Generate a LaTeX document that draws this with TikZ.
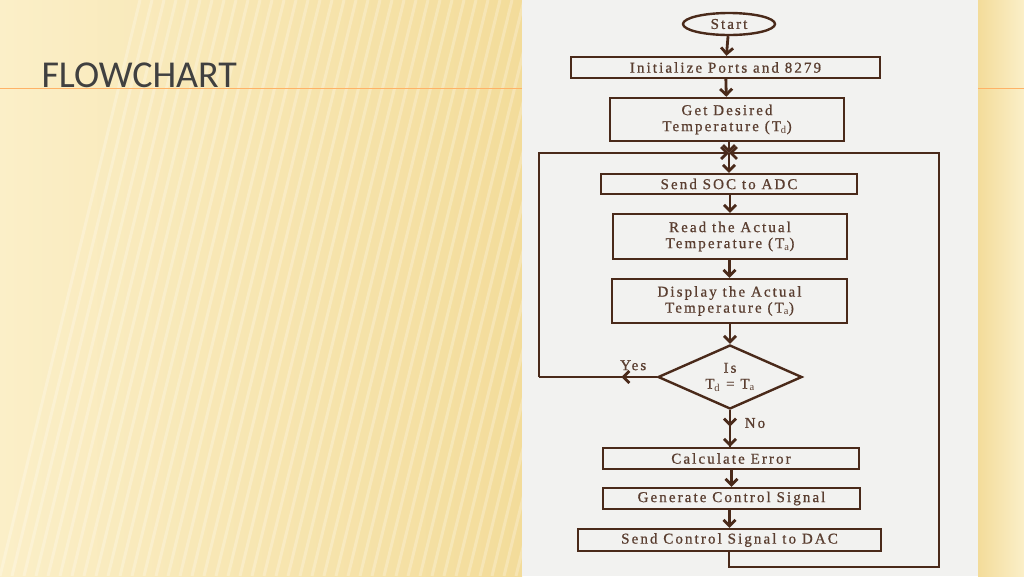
\documentclass[tikz,border=0pt]{standalone}
\usepackage{fontspec}
\setmainfont{Liberation Serif}
\newfontfamily\boxfont[LetterSpace=14,FakeBold=0.8]{Liberation Serif}
\newfontfamily\titlefont{Carlito}
\usetikzlibrary{shapes.geometric,arrows.meta,decorations.markings}
\definecolor{ink}{HTML}{4A2A1A}
\definecolor{txt}{HTML}{5A3E30}
\definecolor{panel}{HTML}{F2F2F0}
\definecolor{bgA}{HTML}{FBEFC8}
\definecolor{bgB}{HTML}{F3DC9A}
\tikzset{
  lbl/.style={text=txt,font=\boxfont\fontsize{15}{16}\selectfont},
  box/.style={draw=ink,line width=2.4pt,fill=panel,lbl,align=center,inner sep=0pt},
  flow/.style={draw=ink,line width=2.8pt,-{Straight Barb[length=6pt,width=12pt]}},
  line/.style={draw=ink,line width=2.8pt},
  midarrow/.style={postaction={decorate},decoration={markings,mark=at position #1 with {\arrow{Straight Barb[length=6pt,width=12pt]}}}},
}
\begin{document}
\begin{tikzpicture}[x=1pt,y=-1pt]
\useasboundingbox (0,0) rectangle (1024,576);
\shade[left color=bgA,right color=bgB] (0,0) rectangle (522,576);
\shade[left color=bgB,right color=bgA] (978,0) rectangle (1024,576);
\foreach \i in {0,12,...,560}{\draw[white,opacity=0.25,line width=3pt] (\i,576) -- (\i+140,0);}
\draw[orange!60,line width=0.6pt] (0,88) -- (1024,88);
\fill[panel] (522,0) rectangle (978,576);
\node[anchor=west,text=black!75,font=\titlefont\fontsize{38}{40}\selectfont] (title) at (38,75) {FLOWCHART};
\node[box,ellipse,minimum width=92pt,minimum height=22pt] (start) at (729,24) {Start};
\node[box,minimum width=309pt,minimum height=21pt] (init) at (725.5,67.5) {Initialize Ports and 8279};
\node[box,minimum width=234pt,minimum height=43pt] (get) at (727,119.5) {Get Desired\\Temperature (T$_{\mathrm d}$)};
\coordinate (j) at (729,153);
\node[box,minimum width=256pt,minimum height=20pt] (soc) at (729,184) {Send SOC to ADC};
\node[box,minimum width=234pt,minimum height=45pt] (read) at (730,236.5) {Read the Actual\\Temperature (T$_{\mathrm a}$)};
\node[box,minimum width=235pt,minimum height=44pt] (disp) at (729.5,301) {Display the Actual\\Temperature (T$_{\mathrm a}$)};
\node[box,diamond,aspect=2.25,minimum width=144pt,minimum height=64pt] (dec) at (730,377) {Is\\T$_{\mathrm d}$ = T$_{\mathrm a}$};
\node[box,minimum width=256pt,minimum height=21pt] (calc) at (731,458.5) {Calculate Error};
\node[box,minimum width=257pt,minimum height=21pt] (gen) at (731.5,498.5) {Generate Control Signal};
\node[box,minimum width=303pt,minimum height=22pt] (dac) at (729.5,540) {Send Control Signal to DAC};
\coordinate (yl) at (539,377);
\coordinate (yt) at (539,153);
\coordinate (rb) at (939,567);
\coordinate (rt) at (939,153);
\coordinate (db) at (729,567);
\draw[flow] (start) -- (init);
\draw[flow] (init) -- (get);
\draw[flow] (get.south -| j) -- (j);
\draw[flow] (j) -- (soc);
\draw[flow] (soc.south -| read.north) -- (read);
\draw[flow] (read.south -| disp.north) -- (disp);
\draw[flow] (disp.south -| dec.north) -- (dec);
\draw[line,midarrow=0.45] (dec.south) -- (dec.south |- calc.north) node[pos=0.35,right=10pt,lbl] (no) {No};
\draw[flow] (dec.south) ++(0,20) -- (dec.south |- calc.north);
\draw[flow] (calc.south -| gen.north) -- (gen);
\draw[flow] (gen.south -| dac.north) -- (dac);
\draw[line,midarrow=0.3] (dec.west) -- (yl) node[pos=0.2,above=2pt,lbl] (yes) {Yes};
\draw[flow] (yl) -- (yt) -- (j);
\draw[flow] (dac.south -| db) -- (db) -- (rb) -- (rt) -- (j);
\end{tikzpicture}
\end{document}
